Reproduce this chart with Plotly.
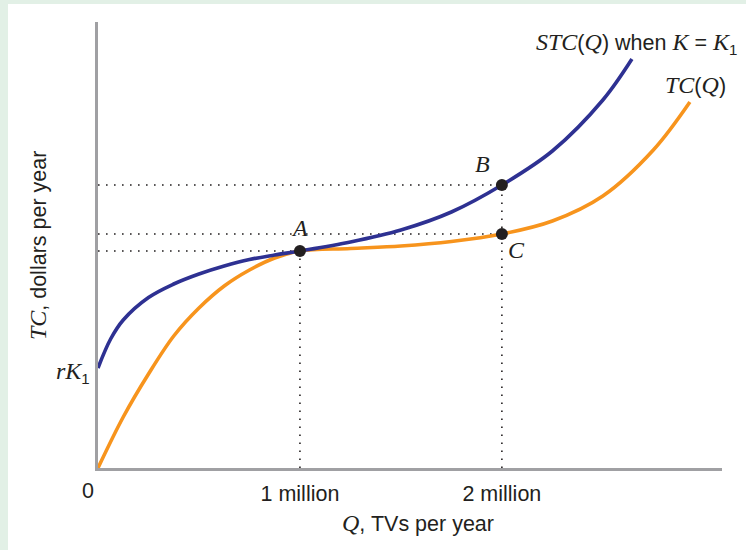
import plotly.graph_objects as go

# STC(Q) when K = K1 (blue)
stc_q = [0.0, 0.0625, 0.125, 0.25, 0.375, 0.5, 0.625, 0.75, 0.875, 1.0, 1.25, 1.5, 1.75, 2.0, 2.25, 2.5, 2.644]
stc_v = [1.00, 1.29, 1.48, 1.705, 1.84, 1.94, 2.02, 2.085, 2.13, 2.17, 2.26, 2.38, 2.56, 2.83, 3.17, 3.68, 4.09]

# TC(Q) (orange)
tc_q = [0.0, 0.125, 0.25, 0.375, 0.5, 0.625, 0.75, 0.875, 1.0, 1.25, 1.5, 1.75, 2.0, 2.25, 2.5, 2.75, 2.931]
tc_v = [0.0, 0.51, 0.94, 1.32, 1.60, 1.82, 1.98, 2.10, 2.17, 2.195, 2.22, 2.265, 2.34, 2.47, 2.72, 3.18, 3.66]

# Marked points
pt_names = ["A", "B", "C"]
pt_q = [1.0, 2.0, 2.0]
pt_v = [2.17, 2.83, 2.34]

tick_vals = [1, 2]
tick_text = ["1 million", "2 million"]
rk1 = 1.00

BLUE = "#2E3192"
ORANGE = "#F7941D"
INK = "#231F20"
AXIS = "#A0A0A3"
GREEN = "#E2F0E6"
SANS = "Liberation Sans"


def it(s):
    return ("<span style=\"font-family:'Liberation Serif';font-style:italic;font-size:24px\">"
            + s + "</span>")


fig = go.Figure()

# dotted guide lines
dash = "1.6px,6.4px"
for name, q, v in zip(pt_names, pt_q, pt_v):
    fig.add_trace(go.Scatter(x=[0, q], y=[v, v], mode="lines",
                             line=dict(color=INK, width=1.6, dash=dash),
                             hoverinfo="skip", showlegend=False))
for name, q, v in zip(pt_names, pt_q, pt_v):
    if name == "C":
        continue
    fig.add_trace(go.Scatter(x=[q, q], y=[0, v], mode="lines",
                             line=dict(color=INK, width=1.6, dash=dash),
                             hoverinfo="skip", showlegend=False))

fig.add_trace(go.Scatter(x=tc_q, y=tc_v, mode="lines",
                         line=dict(color=ORANGE, width=3.6, shape="spline", smoothing=1),
                         showlegend=False))
fig.add_trace(go.Scatter(x=stc_q, y=stc_v, mode="lines",
                         line=dict(color=BLUE, width=3.6, shape="spline", smoothing=1),
                         showlegend=False))
fig.add_trace(go.Scatter(x=pt_q, y=pt_v, mode="markers", marker=dict(color=INK, size=12),
                         showlegend=False))

# white panel
fig.add_shape(type="rect", xref="paper", yref="paper", x0=-0.1442, x1=1.2, y0=-0.3, y1=1.0404,
              fillcolor="white", line=dict(width=0), layer="below")

anns = []
anns.append(dict(x=2.158, y=4.25, xanchor="left", yanchor="middle",
                 text=it("STC") + "(" + it("Q") + ") when " + it("K") + " = " + it("K") + "<sub>1</sub>"))
anns.append(dict(x=2.96, y=3.83, xanchor="center", yanchor="middle",
                 text=it("TC") + "(" + it("Q") + ")"))
lbl_pos = {"A": (0.0, 0.23), "B": (-0.095, 0.21), "C": (0.074, -0.16)}
for name, q, v in zip(pt_names, pt_q, pt_v):
    dx, dy = lbl_pos[name]
    anns.append(dict(x=q + dx, y=v + dy, xanchor="center", yanchor="middle", text=it(name)))
anns.append(dict(x=0, y=rk1, xanchor="right", yanchor="middle", xshift=-6, yshift=-4,
                 text=it("r") + it("K") + "<sub>1</sub>"))
anns.append(dict(x=0, y=0, xanchor="center", yanchor="middle", xshift=-10, yshift=-23,
                 text="0"))
anns.append(dict(x=0.5, xref="paper", y=-0.124, yref="paper", xanchor="center", yanchor="middle",
                 xshift=8, text=it("Q") + ", TVs per year"))
anns.append(dict(x=-0.096, xref="paper", y=0.5, yref="paper", xanchor="center", yanchor="middle",
                 textangle=-90, text=it("TC") + ", dollars per year"))
for a in anns:
    a.setdefault("xref", "x")
    a.setdefault("yref", "y")
    a["showarrow"] = False
    a["font"] = dict(family=SANS, size=21.5, color=INK)
fig.update_layout(annotations=anns)

fig.update_layout(
    width=746, height=550,
    margin=dict(l=98, r=24, t=22, b=82),
    paper_bgcolor=GREEN,
    plot_bgcolor="rgba(0,0,0,0)",
    showlegend=False,
    hovermode=False,
    xaxis=dict(range=[0, 3.09], showgrid=False, zeroline=False, showline=True,
               linecolor=AXIS, linewidth=2.5, tickvals=tick_vals, ticktext=tick_text,
               ticks="", ticklabelstandoff=4,
               tickfont=dict(family=SANS, size=21.5, color=INK)),
    yaxis=dict(range=[0, 4.46], showgrid=False, zeroline=False, showline=True,
               linecolor=AXIS, linewidth=2.5, showticklabels=False, ticks=""),
)

fig.write_html("out.html", config={"displayModeBar": False},
               post_script="document.body.style.margin='0';document.body.style.background='#E2F0E6';")
